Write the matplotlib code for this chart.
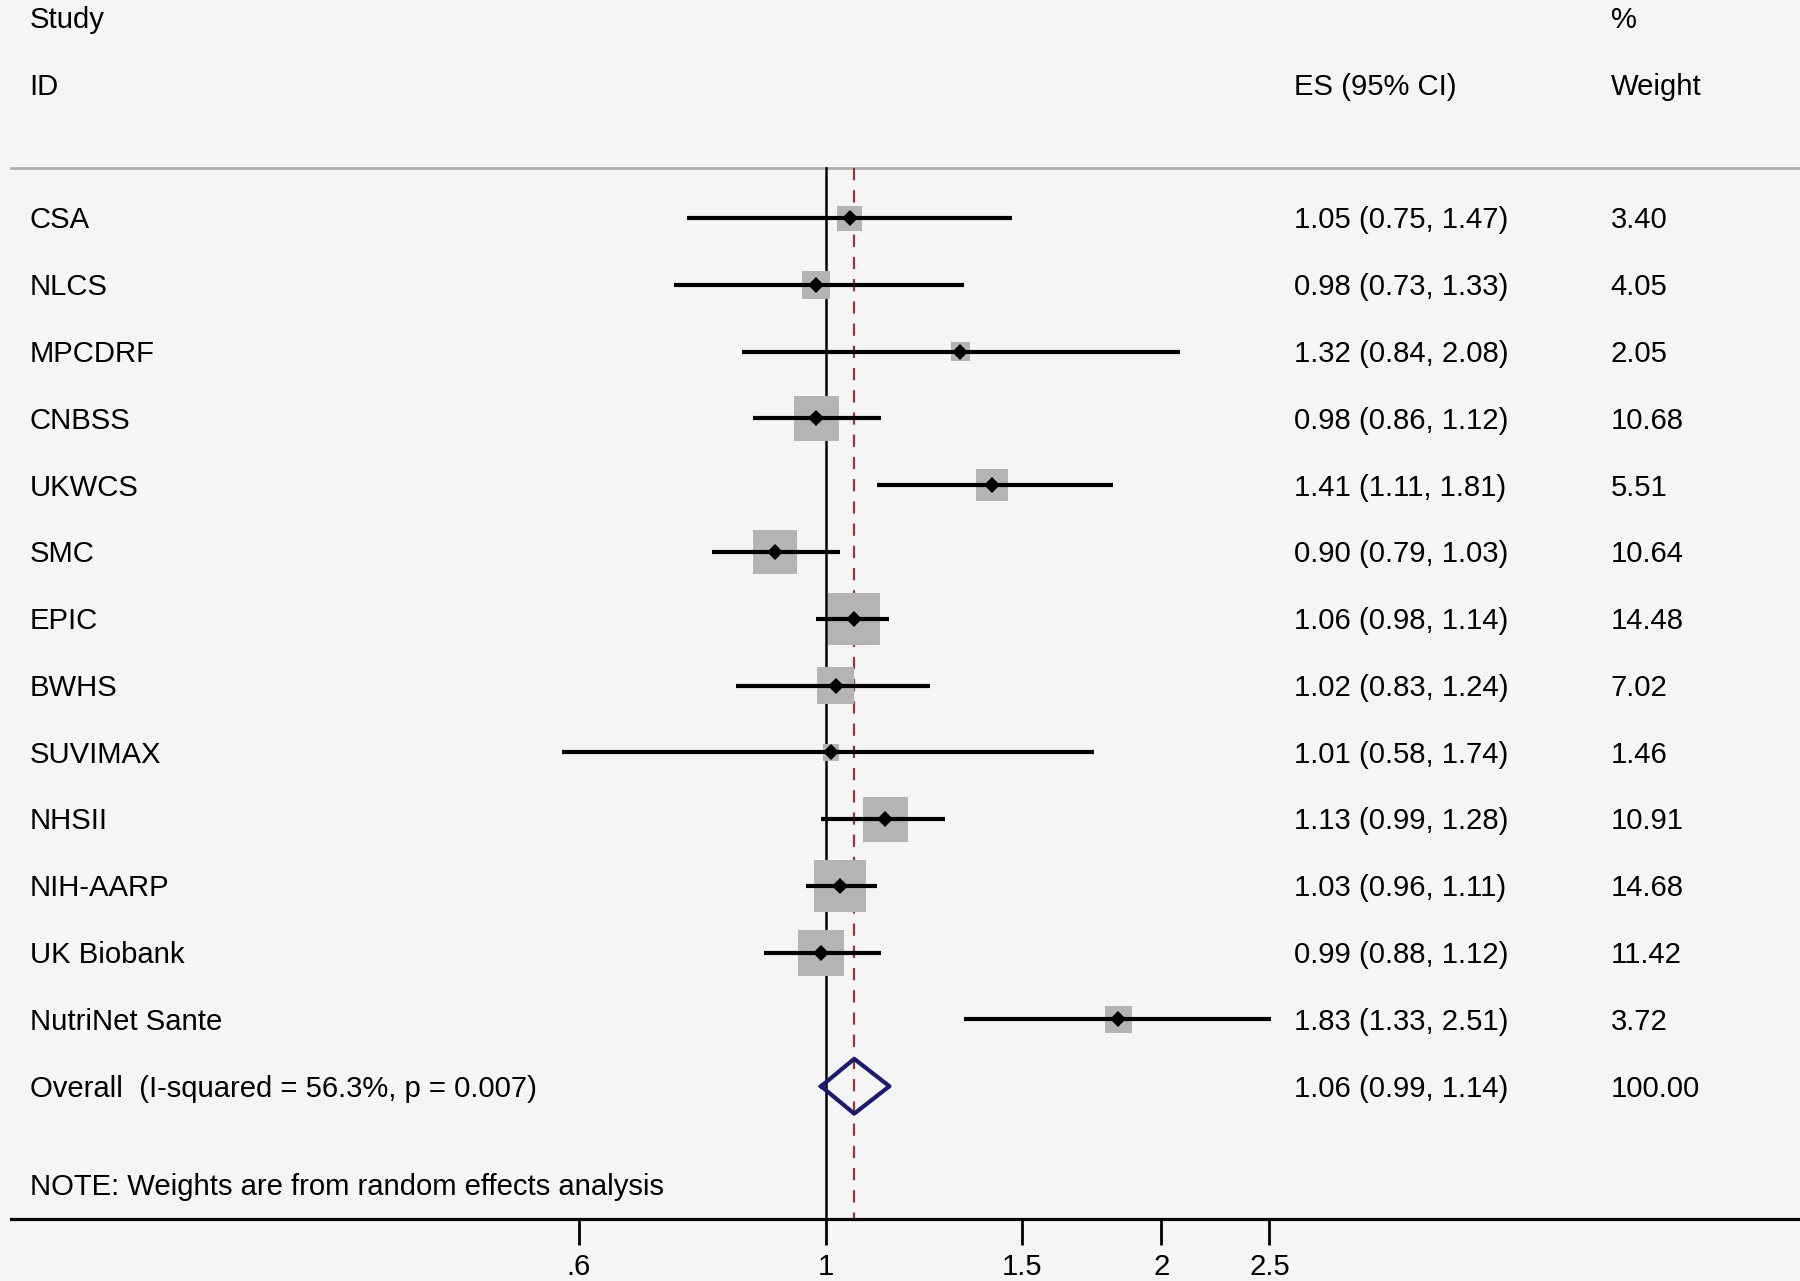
import matplotlib.pyplot as plt
import numpy as np
from matplotlib.transforms import blended_transform_factory

# study data
studies = ['CSA', 'NLCS', 'MPCDRF', 'CNBSS', 'UKWCS', 'SMC', 'EPIC', 'BWHS',
           'SUVIMAX', 'NHSII', 'NIH-AARP', 'UK Biobank', 'NutriNet Sante']
es = [1.05, 0.98, 1.32, 0.98, 1.41, 0.90, 1.06, 1.02, 1.01, 1.13, 1.03, 0.99, 1.83]
lo = [0.75, 0.73, 0.84, 0.86, 1.11, 0.79, 0.98, 0.83, 0.58, 0.99, 0.96, 0.88, 1.33]
hi = [1.47, 1.33, 2.08, 1.12, 1.81, 1.03, 1.14, 1.24, 1.74, 1.28, 1.11, 1.12, 2.51]
weights = [3.40, 4.05, 2.05, 10.68, 5.51, 10.64, 14.48, 7.02, 1.46, 10.91,
           14.68, 11.42, 3.72]
overall = (1.06, 0.99, 1.14)
overall_label = 'Overall  (I-squared = 56.3%, p = 0.007)'
note = 'NOTE: Weights are from random effects analysis'
xticks = [0.6, 1, 1.5, 2, 2.5]
xticklabels = ['.6', '1', '1.5', '2', '2.5']

plt.rcParams['font.family'] = ['Liberation Sans', 'DejaVu Sans']
FS = 21.1
BG = '#f5f5f5'

W, H = 1800, 1281
fig = plt.figure(figsize=(W / 100, H / 100), dpi=100, facecolor=BG)

# axes: x=1 sits at 826 px, 484 px per log unit
px_per_ln = 484.0
x_one = 826.0
left_px, axis_px = 11.5, 1219.2
xmin = np.exp((left_px - x_one) / px_per_ln)
xmax = np.exp((W - x_one) / px_per_ln)
ax = fig.add_axes([left_px / W, (H - axis_px) / H, 1 - left_px / W, axis_px / H])
ax.set_facecolor(BG)
ax.set_xscale('log')
ax.set_xlim(xmin, xmax)

row_h = 66.78
top_row_px = 218.1
ytop = -top_row_px / row_h
ybot = (axis_px - top_row_px) / row_h
ax.set_ylim(ybot, ytop)

for s in ['top', 'right', 'left']:
    ax.spines[s].set_visible(False)
ax.spines['bottom'].set_linewidth(2.3)
ax.set_yticks([])
ax.set_xticks(xticks)
ax.set_xticklabels(xticklabels, fontsize=FS)
ax.minorticks_off()
ax.tick_params(axis='x', length=19, width=2, pad=5, direction='out')

line_y = -0.756
ax.plot([xmin, xmax * 0.995], [line_y, line_y], color='#b0b0b0', lw=2,
        clip_on=False)

# reference lines
ax.plot([1, 1], [line_y, ybot], color='black', lw=1.8, zorder=2)
ax.plot([overall[0]] * 2, [line_y, ybot], color='#a0323c', lw=1.6,
        linestyle=(0, (5.5, 4.5)), zorder=2)

rows = np.arange(len(studies))
ax.scatter(es, rows, s=np.array(weights) * 96.8, marker='s', color='#b4b4b4',
           linewidths=0, zorder=3)
ax.hlines(rows, lo, hi, color='black', lw=3.0, zorder=4)
ax.plot(es, rows, 'D', color='black', ms=8.3, mew=0, zorder=5)

# pooled estimate diamond
oy = len(studies)
dh = 0.41
ax.plot([overall[1], overall[0], overall[2], overall[0], overall[1]],
        [oy, oy - dh, oy, oy + dh, oy], color='#1a1a6e', lw=3.0, zorder=5)

# text columns (x in figure pixels, y in rows)
tr = blended_transform_factory(fig.transFigure, ax.transData)
col_id, col_es, col_w = 29.5 / W, 1293.5 / W, 1610.5 / W
dy = 0.035

def put(x, y, s):
    ax.text(x, y + dy, s, transform=tr, fontsize=FS, va='center', ha='left',
            clip_on=False)

put(col_id, -3, 'Study')
put(col_id, -2, 'ID')
put(col_es, -2, 'ES (95% CI)')
put(col_w, -3, '%')
put(col_w, -2, 'Weight')

for i, name in enumerate(studies):
    put(col_id, i, name)
    put(col_es, i, '{:.2f} ({:.2f}, {:.2f})'.format(es[i], lo[i], hi[i]))
    put(col_w, i, '{:.2f}'.format(weights[i]))

put(col_id, oy, overall_label)
put(col_es, oy, '{:.2f} ({:.2f}, {:.2f})'.format(*overall))
put(col_w, oy, '100.00')
put(col_id, 14.47, note)

fig.savefig('out.png', dpi=100, facecolor=BG)
